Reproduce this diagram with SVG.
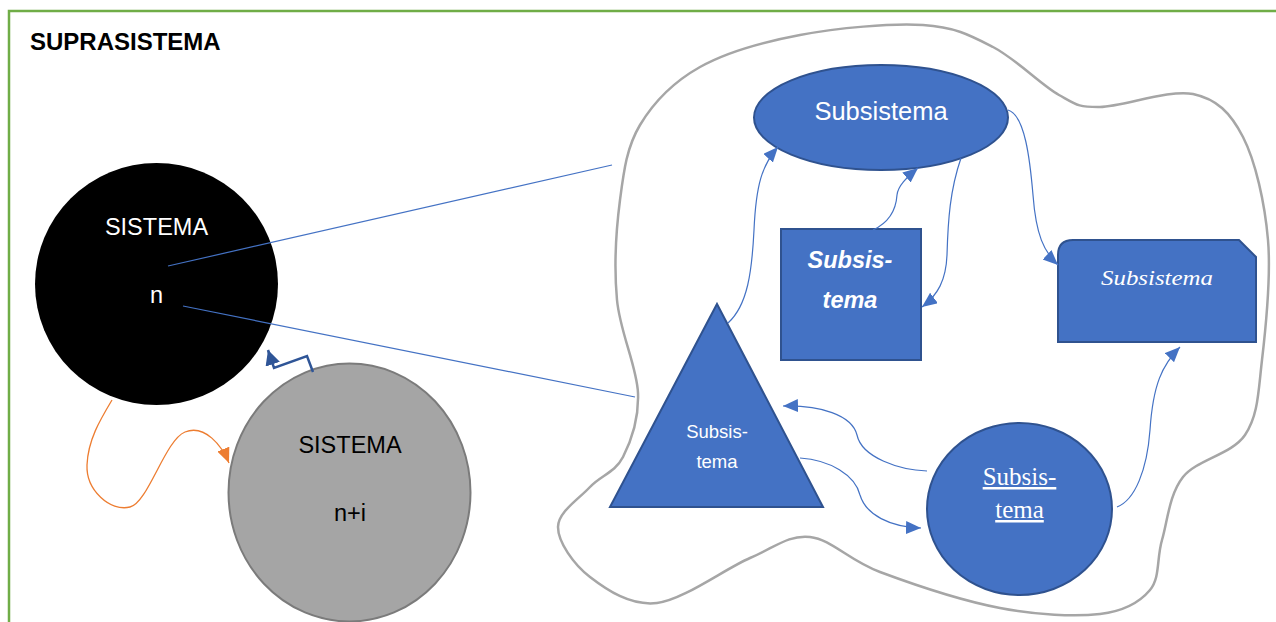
<svg xmlns="http://www.w3.org/2000/svg" width="1276" height="622" viewBox="0 0 1276 622">
  <style>
    .sans { font-family: "Liberation Sans", Arial, sans-serif; }
    .serif { font-family: "Liberation Serif", "Times New Roman", serif; }
    .sub { fill: #4472C4; stroke: #2F528F; stroke-width: 2; }
    .wt { fill: #FFFFFF; text-anchor: middle; }
    .bt { fill: #000000; text-anchor: middle; }
    .link { fill: none; stroke: #4472C4; stroke-width: 1.2; }
  </style>
  <defs>
    <marker id="arrow-blue" markerUnits="userSpaceOnUse" markerWidth="16" markerHeight="14" refX="15" refY="6.5" orient="auto">
      <path d="M0,0 L15,6.5 L0,13 Z" fill="#4472C4"/>
    </marker>
    <marker id="arrow-orange" markerUnits="userSpaceOnUse" markerWidth="16" markerHeight="14" refX="15" refY="6.5" orient="auto">
      <path d="M0,0 L15,6.5 L0,13 Z" fill="#ED7D31"/>
    </marker>
    <marker id="arrow-navy" markerUnits="userSpaceOnUse" markerWidth="17" markerHeight="16" refX="15" refY="7.5" orient="auto">
      <path d="M0,0 L15,7.5 L0,15 Z" fill="#2F5597"/>
    </marker>
  </defs>

  <rect width="1276" height="622" fill="#FFFFFF"/>

  <!-- outer frame -->
  <g id="suprasistema">
    <path d="M9,624 L9,11 L1278,11" fill="none" stroke="#70AD47" stroke-width="2.5"/>
    <text class="sans" x="30" y="50" font-size="24" font-weight="bold" fill="#000">SUPRASISTEMA</text>
  </g>

  <!-- boundary of the subsystem group -->
  <g id="boundary">
    <path fill="none" stroke="#A6A6A6" stroke-width="2.5" d="M617,300
      C614,267.8 616.2,229.2 620,200
      C623.8,170.8 626.7,147.2 640,125
      C653.3,102.8 673.3,82 700,67
      C726.7,52 762.8,42 800,35
      C837.2,28 890.8,23 923,25
      C955.2,27 970.3,35.3 993,47
      C1015.7,58.7 1041.2,85 1059,95
      C1076.8,105 1077.7,107.2 1100,107
      C1122.3,106.8 1169.2,89 1193,94
      C1216.8,99 1230.5,112.7 1243,137
      C1255.5,161.3 1264.8,202.8 1268,240
      C1271.2,277.2 1265.8,327.5 1262,360
      C1258.2,392.5 1258.2,415.5 1245,435
      C1231.8,454.5 1196.8,459.5 1183,477
      C1169.2,494.5 1167.5,521.2 1162,540
      C1156.5,558.8 1160.3,577.7 1150,590
      C1139.7,602.3 1125,611 1100,614
      C1075,617 1036.7,615 1000,608
      C963.3,601 911.7,583.8 880,572
      C848.3,560.2 831.7,539.3 810,537
      C788.3,534.7 775.5,547 750,558
      C724.5,569 683.7,599.8 657,603
      C630.3,606.2 606.5,589.7 590,577
      C573.5,564.3 558,542 558,527
      C558,512 579.2,498.7 590,487
      C600.8,475.3 615,472.7 623,457
      C631,441.3 639,419.2 638,393
      C637,366.8 620,332.2 617,300 Z"/>
  </g>

  <!-- system n -->
  <g id="sistema-n">
    <ellipse cx="156.5" cy="284" rx="121.5" ry="121" fill="#000000"/>
    <text class="sans wt" x="156.5" y="235" font-size="23.5">SISTEMA</text>
    <text class="sans wt" x="156.5" y="303" font-size="23.5">n</text>
  </g>

  <!-- system n+i -->
  <g id="sistema-ni">
    <ellipse cx="349.5" cy="492.5" rx="121" ry="129" fill="#A5A5A5" stroke="#7B7B7B" stroke-width="2"/>
    <text class="sans bt" x="350" y="453" font-size="23.5">SISTEMA</text>
    <text class="sans bt" x="350" y="521" font-size="23.5">n+i</text>
  </g>

  <!-- subsystems -->
  <g id="sub-ellipse">
    <ellipse class="sub" cx="881" cy="117.5" rx="127" ry="52.5"/>
    <text class="sans wt" x="881" y="120" font-size="25.5">Subsistema</text>
  </g>

  <g id="sub-square">
    <rect class="sub" x="781" y="229" width="140" height="131"/>
    <text class="sans wt" x="850" y="268" font-size="23.5" font-weight="bold" font-style="italic">Subsis-</text>
    <text class="sans wt" x="850" y="308" font-size="23.5" font-weight="bold" font-style="italic">tema</text>
  </g>

  <g id="sub-snip">
    <path class="sub" d="M1058,255 Q1058,240 1073,240 L1239,240 L1256,257 L1256,342 L1058,342 Z"/>
    <text class="serif wt" x="1157" y="285" font-size="21" font-style="italic" textLength="112" lengthAdjust="spacingAndGlyphs">Subsistema</text>
  </g>

  <g id="sub-triangle">
    <polygon class="sub" points="717,304 823,507 610,507"/>
    <text class="sans wt" x="717" y="438" font-size="18.5">Subsis-</text>
    <text class="sans wt" x="717" y="468" font-size="18.5">tema</text>
  </g>

  <g id="sub-circle">
    <ellipse class="sub" cx="1019.5" cy="509" rx="92.5" ry="86"/>
    <text class="serif wt" x="1019.5" y="485" font-size="25" text-decoration="underline">Subsis-</text>
    <text class="serif wt" x="1019.5" y="518" font-size="25" text-decoration="underline">tema</text>
  </g>

  <!-- connectors -->
  <g id="connectors">
    <line x1="168" y1="266" x2="612" y2="165" stroke="#4472C4" stroke-width="1.2"/>
    <line x1="183" y1="306" x2="635" y2="397" stroke="#4472C4" stroke-width="1.2"/>

    <path d="M313,372 L307,356 L274,368 L268,350" fill="none" stroke="#2F5597" stroke-width="2.5" stroke-linejoin="miter" marker-end="url(#arrow-navy)"/>

    <path d="M112,400 C100,420 88,440 87,465 C86,490 110,512 130,507 C148,503 165,440 185,432 C205,424 222,446 229,463" fill="none" stroke="#ED7D31" stroke-width="1.3" marker-end="url(#arrow-orange)"/>

    <path class="link" d="M728,323 C748,305 752,270 754,230 C756,185 762,165 778,147" marker-end="url(#arrow-blue)"/>
    <path class="link" d="M873,230 C890,222 896,210 897,195 C898,186 906,178 918,168" marker-end="url(#arrow-blue)"/>
    <path class="link" d="M961,158 C950,190 948,220 947,255 C946,280 938,295 922,307" marker-end="url(#arrow-blue)"/>
    <path class="link" d="M1008,110 C1025,115 1030,160 1033,195 C1036,235 1044,252 1058,265" marker-end="url(#arrow-blue)"/>
    <path class="link" d="M1117,507 C1135,500 1147,470 1150,430 C1153,385 1162,365 1180,347" marker-end="url(#arrow-blue)"/>
    <path class="link" d="M927,471 C900,470 862,458 857,435 C852,415 820,405 783,406" marker-end="url(#arrow-blue)"/>
    <path class="link" d="M800,458 C830,460 855,475 860,495 C866,515 890,527 921,528" marker-end="url(#arrow-blue)"/>
  </g>
</svg>
